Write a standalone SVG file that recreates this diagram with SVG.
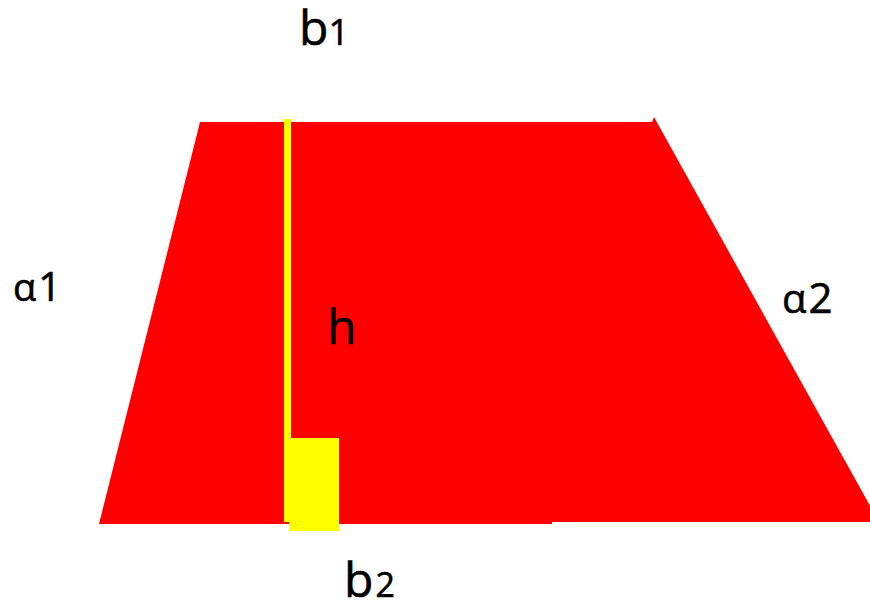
<svg xmlns="http://www.w3.org/2000/svg" width="870" height="604" viewBox="0 0 870 604">
<style>
.lbl{font-family:"Open Sans","Noto Sans","Liberation Sans",sans-serif;fill:#000;stroke:#000;stroke-width:0.6}
</style>
<rect width="870" height="604" fill="#fff"/>
<g id="trapezoid">
<polygon points="200,122 652,122 654,117 879,522 552,522 552,524 99,524" fill="#ff0000"/>
</g>
<g id="height">
<rect x="284" y="119" width="7" height="403" fill="#ffff00"/>
<rect x="289" y="438" width="50" height="93" fill="#ffff00"/>
</g>
<g id="labels">
<text class="lbl" x="299" y="45" font-size="48">b<tspan font-size="36">1</tspan></text>
<text class="lbl" x="344" y="597" font-size="48">b<tspan font-size="34" dx="2">2</tspan></text>
<text class="lbl" x="327" y="344" font-size="48">h</text>
<text class="lbl" x="13" y="301" font-size="38">α<tspan font-size="40" dx="2">1</tspan></text>
<text class="lbl" x="782" y="313" font-size="40">α<tspan font-size="42" dx="2">2</tspan></text>
</g>
</svg>
